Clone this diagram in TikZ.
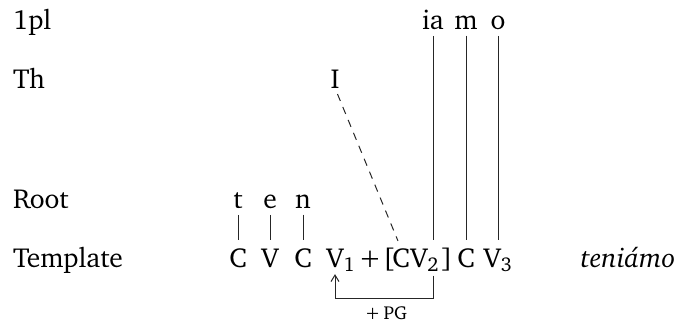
\documentclass[tikz,border=0pt]{standalone}
\usepackage[T1]{fontenc}
\usepackage{charter}
\usetikzlibrary{arrows.meta}
\newcommand{\segfont}{\fontsize{11}{13}\selectfont}
\newcommand{\sbs}[1]{\raisebox{-0.35ex}{\fontsize{8}{9}\selectfont #1}}
\tikzset{
  seg/.style={inner sep=0pt, outer sep=0pt, anchor=base, font=\segfont},
  tier/.style={inner sep=0pt, outer sep=0pt, anchor=base west, font=\segfont},
  assoc/.style={line width=0.4pt, black!85, shorten <=2.6pt, shorten >=3.2pt},
  dassoc/.style={assoc, dash pattern=on 3pt off 2.6pt},
  pgarrow/.style={line width=0.4pt, black!85, -{Straight Barb[length=2.6pt,width=3.2pt]}, shorten <=1.6pt, shorten >=1pt}
}
\begin{document}
\begin{tikzpicture}[x=0.4pt,y=-0.4pt]
\useasboundingbox (0,0) rectangle (674,322);
% tier labels
\node[tier] (l1) at (13,29) {1pl};
\node[tier] (l2) at (13,88) {Th};
\node[tier] (l3) at (13,208) {Root};
\node[tier] (l4) at (13,267) {Template};
% 1pl
\node[seg] (ia) at (433,29) {ia};
\node[seg] (m) at (466,29) {m};
\node[seg] (o) at (498,29) {o};
% Th
\node[seg] (I) at (335,88) {I};
% Root
\node[seg] (t) at (238,208) {t};
\node[seg] (e) at (270,208) {e};
\node[seg] (n) at (303,208) {n};
% Template
\node[seg] (c1) at (238,267) {C};
\node[seg] (v0) at (270,267) {V};
\node[seg] (c0) at (303,267) {C};
\node[seg] (v1) at (335,267) {V\rlap{\sbs{1}}};
\node[seg] (plus) at (370,267) {+};
\node[seg] (lb) at (389,267) {[};
\node[seg] (c2) at (401,267) {C};
\node[seg] (v2) at (419,267) {V};
\node[seg] (s2) at (433,267) {\sbs{2}};
\node[seg] (rb) at (447,267) {]};
\node[seg] (c3) at (466,267) {C};
\node[seg] (v3) at (498,267) {V\sbs{3}};
\node[seg, font=\segfont\itshape] (gloss) at (628,267) {teni\'amo};
% associations
\draw[assoc] (t.south) -- (c1.north);
\draw[assoc] (e.south) -- (v0.north);
\draw[assoc] (n.south) -- (c0.north);
\draw[assoc] (ia.south) -- (ia.south |- c2.north);
\draw[assoc] (m.south) -- (c3.north);
\draw[assoc] (o.south) -- (o.south |- c3.north);
\draw[dassoc] (I.south) -- (c2.north);
% PG arrow
\coordinate (pgR) at (433,298);
\draw[pgarrow] (s2.south) -- (pgR) -| (v1.south);
\node[inner sep=0pt, font=\fontsize{7.5}{9}\selectfont] (pg) at (386,313) {+\,PG};
\end{tikzpicture}
\end{document}
